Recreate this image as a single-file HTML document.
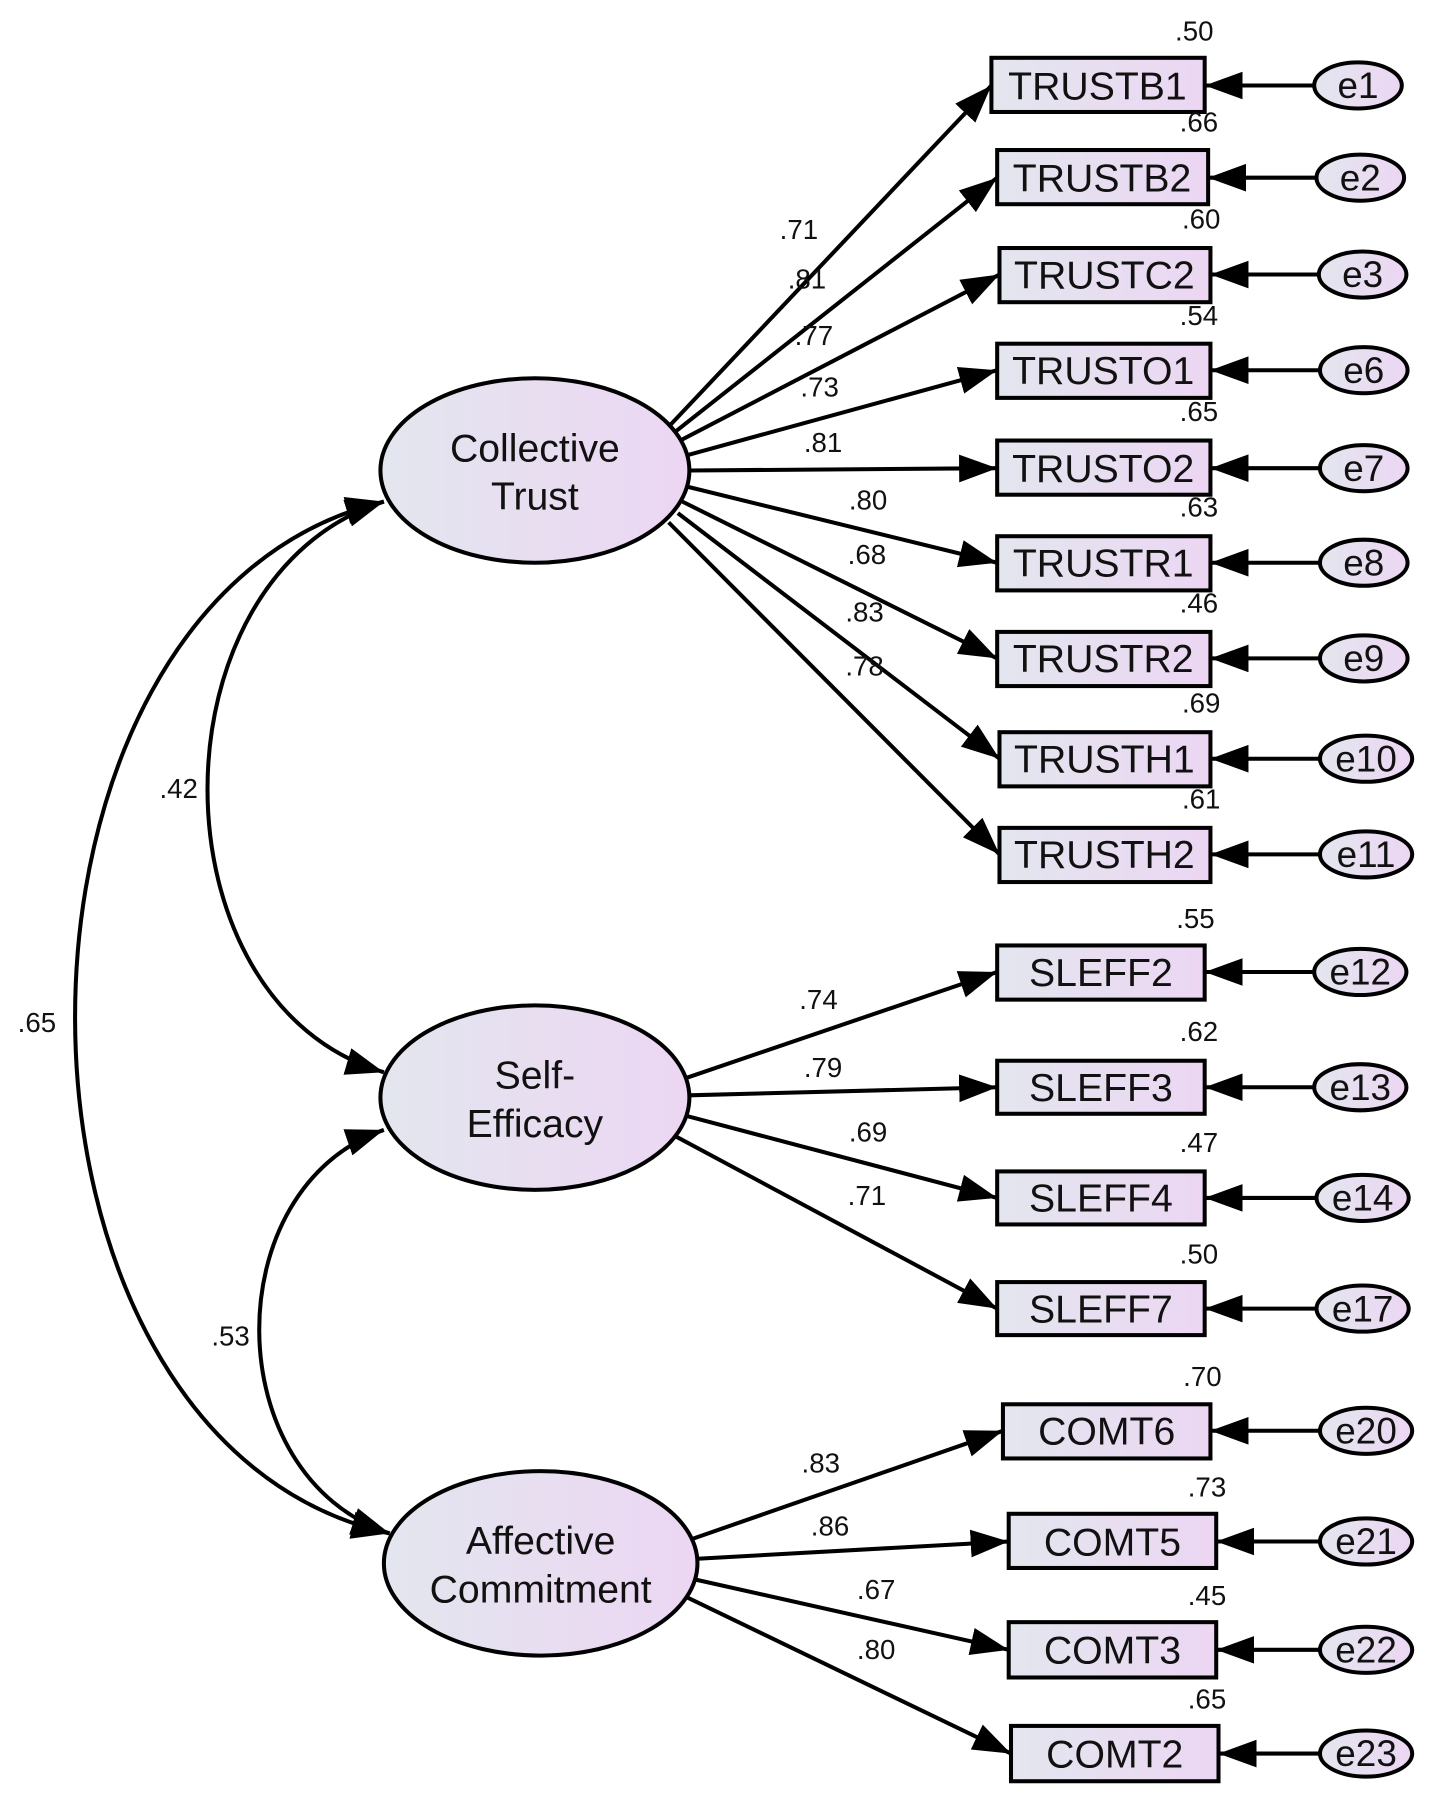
<!DOCTYPE html>
<html><head><meta charset="utf-8"><style>html,body{margin:0;padding:0;background:#fff}svg{display:block}</style></head>
<body>
<svg width="1441" height="1801" viewBox="0 0 1250 1562" xmlns="http://www.w3.org/2000/svg" font-family="Liberation Sans, Arial, sans-serif">
<defs>
<linearGradient id="g" x1="0" x2="1" y1="0" y2="0"><stop offset="0" stop-color="#e3e6ee"/><stop offset="1" stop-color="#ecd6f3"/></linearGradient>
<marker id="a" markerUnits="userSpaceOnUse" markerWidth="36" markerHeight="26" refX="33" refY="12" orient="auto-start-reverse"><path d="M0,0 L33,12 L0,24 z" fill="#000"/></marker>
</defs>
<g fill="none" stroke="#000" stroke-width="3.5">
<path d="M333,435 C 129,500 129,870 333,930" marker-start="url(#a)" marker-end="url(#a)"/>
<path d="M333,435 C -25,520 -25,1250 338,1330" marker-start="url(#a)" marker-end="url(#a)"/>
<path d="M333,980 C 188,1030 188,1280 338,1330" marker-start="url(#a)" marker-end="url(#a)"/>
<g marker-end="url(#a)">
<line x1="580" y1="370" x2="860" y2="74"/>
<line x1="585" y1="375" x2="865" y2="154"/>
<line x1="590" y1="382" x2="867" y2="238"/>
<line x1="595" y1="395" x2="865" y2="321"/>
<line x1="598" y1="408" x2="865" y2="406"/>
<line x1="596" y1="422" x2="865" y2="488"/>
<line x1="592" y1="435" x2="865" y2="571"/>
<line x1="588" y1="445" x2="867" y2="658"/>
<line x1="580" y1="453" x2="867" y2="741"/>
<line x1="595" y1="935" x2="865" y2="843"/>
<line x1="598" y1="950" x2="865" y2="943"/>
<line x1="596" y1="968" x2="865" y2="1039"/>
<line x1="585" y1="985" x2="865" y2="1135"/>
<line x1="600" y1="1335" x2="870" y2="1241"/>
<line x1="605" y1="1352" x2="875" y2="1337"/>
<line x1="603" y1="1370" x2="875" y2="1431"/>
<line x1="595" y1="1385" x2="877" y2="1521"/>
<line x1="1140" y1="74" x2="1045" y2="74"/>
<line x1="1142" y1="154" x2="1048" y2="154"/>
<line x1="1144" y1="238" x2="1050" y2="238"/>
<line x1="1145" y1="321" x2="1050" y2="321"/>
<line x1="1145" y1="406" x2="1050" y2="406"/>
<line x1="1145" y1="488" x2="1050" y2="488"/>
<line x1="1145" y1="571" x2="1050" y2="571"/>
<line x1="1147" y1="658" x2="1050" y2="658"/>
<line x1="1147" y1="741" x2="1050" y2="741"/>
<line x1="1142" y1="843" x2="1045" y2="843"/>
<line x1="1142" y1="943" x2="1045" y2="943"/>
<line x1="1144" y1="1039" x2="1045" y2="1039"/>
<line x1="1144" y1="1135" x2="1045" y2="1135"/>
<line x1="1147" y1="1241" x2="1050" y2="1241"/>
<line x1="1147" y1="1337" x2="1055" y2="1337"/>
<line x1="1147" y1="1431" x2="1055" y2="1431"/>
<line x1="1147" y1="1521" x2="1057" y2="1521"/>
</g>
</g>
<g fill="url(#g)" stroke="#000" stroke-width="3.5">
<ellipse cx="464" cy="408" rx="134" ry="80"/>
<ellipse cx="464" cy="952" rx="134" ry="80"/>
<ellipse cx="469" cy="1356" rx="136" ry="80"/>
<rect x="860" y="50" width="185" height="47"/>
<rect x="865" y="130" width="183" height="47"/>
<rect x="867" y="215" width="183" height="47"/>
<rect x="865" y="298" width="185" height="47"/>
<rect x="865" y="382" width="185" height="47"/>
<rect x="865" y="465" width="185" height="47"/>
<rect x="865" y="548" width="185" height="47"/>
<rect x="867" y="635" width="183" height="47"/>
<rect x="867" y="718" width="183" height="47"/>
<rect x="865" y="820" width="180" height="47"/>
<rect x="865" y="920" width="180" height="46"/>
<rect x="865" y="1016" width="180" height="46"/>
<rect x="865" y="1112" width="180" height="46"/>
<rect x="870" y="1218" width="180" height="47"/>
<rect x="875" y="1313" width="180" height="47"/>
<rect x="875" y="1407" width="180" height="48"/>
<rect x="877" y="1497" width="180" height="48"/>
<ellipse cx="1178" cy="74" rx="38" ry="20"/>
<ellipse cx="1180" cy="154" rx="38" ry="20"/>
<ellipse cx="1182" cy="238" rx="38" ry="20"/>
<ellipse cx="1183" cy="321" rx="38" ry="20"/>
<ellipse cx="1183" cy="406" rx="38" ry="20"/>
<ellipse cx="1183" cy="488" rx="38" ry="20"/>
<ellipse cx="1183" cy="571" rx="38" ry="20"/>
<ellipse cx="1185" cy="658" rx="40" ry="20"/>
<ellipse cx="1185" cy="741" rx="40" ry="20"/>
<ellipse cx="1180" cy="843" rx="40" ry="20"/>
<ellipse cx="1180" cy="943" rx="40" ry="20"/>
<ellipse cx="1182" cy="1039" rx="40" ry="20"/>
<ellipse cx="1182" cy="1135" rx="40" ry="20"/>
<ellipse cx="1185" cy="1241" rx="40" ry="20"/>
<ellipse cx="1185" cy="1337" rx="40" ry="20"/>
<ellipse cx="1185" cy="1431" rx="40" ry="20"/>
<ellipse cx="1185" cy="1521" rx="40" ry="20"/>
</g>
<g font-size="34" text-anchor="middle" fill="#111">
<text x="464" y="400">Collective</text><text x="464" y="442">Trust</text>
<text x="464" y="944">Self-</text><text x="464" y="986">Efficacy</text>
<text x="469" y="1348">Affective</text><text x="469" y="1390">Commitment</text>
</g>
<g font-size="34" text-anchor="middle" fill="#111">
<text x="952" y="86">TRUSTB1</text><text x="956" y="166">TRUSTB2</text><text x="958" y="250">TRUSTC2</text>
<text x="957" y="333">TRUSTO1</text><text x="957" y="418">TRUSTO2</text><text x="957" y="500">TRUSTR1</text>
<text x="957" y="583">TRUSTR2</text><text x="958" y="670">TRUSTH1</text><text x="958" y="753">TRUSTH2</text>
<text x="955" y="855">SLEFF2</text><text x="955" y="955">SLEFF3</text><text x="955" y="1051">SLEFF4</text><text x="955" y="1147">SLEFF7</text>
<text x="960" y="1253">COMT6</text><text x="965" y="1349">COMT5</text><text x="965" y="1443">COMT3</text><text x="967" y="1533">COMT2</text>
</g>
<g font-size="32" text-anchor="middle" fill="#111">
<text x="1178" y="85">e1</text><text x="1180" y="165">e2</text><text x="1182" y="249">e3</text><text x="1183" y="332">e6</text>
<text x="1183" y="417">e7</text><text x="1183" y="499">e8</text><text x="1183" y="582">e9</text><text x="1185" y="669">e10</text>
<text x="1185" y="752">e11</text><text x="1180" y="854">e12</text><text x="1180" y="954">e13</text><text x="1182" y="1050">e14</text>
<text x="1182" y="1146">e17</text><text x="1185" y="1252">e20</text><text x="1185" y="1348">e21</text><text x="1185" y="1442">e22</text><text x="1185" y="1532">e23</text>
</g>
<g font-size="24" text-anchor="middle" fill="#111">
<text x="693" y="207">.71</text><text x="700" y="250">.81</text><text x="706" y="299">.77</text><text x="711" y="344">.73</text>
<text x="714" y="392">.81</text><text x="753" y="442">.80</text><text x="752" y="489">.68</text><text x="750" y="539">.83</text><text x="750" y="586">.78</text>
<text x="710" y="875">.74</text><text x="714" y="934">.79</text><text x="753" y="990">.69</text><text x="752" y="1045">.71</text>
<text x="712" y="1277">.83</text><text x="720" y="1332">.86</text><text x="760" y="1387">.67</text><text x="760" y="1439">.80</text>
<text x="155" y="692">.42</text><text x="32" y="895">.65</text><text x="200" y="1167">.53</text>
<text x="1036" y="35">.50</text><text x="1040" y="114">.66</text><text x="1042" y="198">.60</text><text x="1040" y="282">.54</text>
<text x="1040" y="365">.65</text><text x="1040" y="448">.63</text><text x="1040" y="531">.46</text><text x="1042" y="618">.69</text>
<text x="1042" y="701">.61</text><text x="1037" y="805">.55</text><text x="1040" y="903">.62</text><text x="1040" y="999">.47</text>
<text x="1040" y="1096">.50</text><text x="1043" y="1202">.70</text><text x="1047" y="1298">.73</text><text x="1047" y="1392">.45</text><text x="1047" y="1482">.65</text>
</g>
</svg>
</body></html>
